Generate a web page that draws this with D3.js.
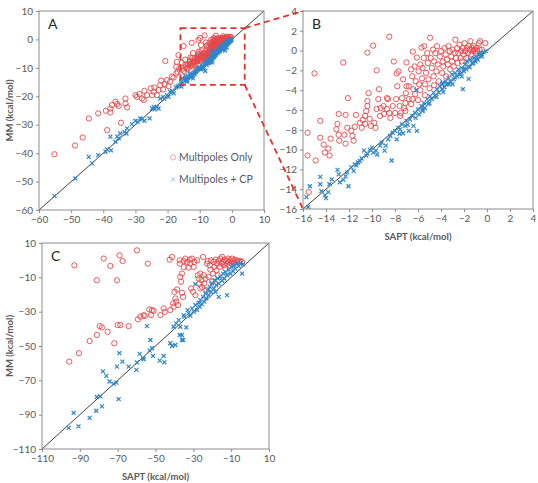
<!DOCTYPE html>
<html>
<head>
<meta charset="utf-8">
<script src="https://cdn.jsdelivr.net/npm/d3@7"></script>
<style>
  body { margin: 0; background: #fff; }
  text { font-family: Lato, sans-serif; }
</style>
</head>
<body>
<div id="chart"></div>
<script>
// SAPT vs MM interaction energies, kcal/mol  [sapt, mm]
// set 1 (panels A and B, B is the zoom of A)
const multipolesOnly1 = [
  [-55.2,-40.4],[-48.8,-37.3],[-46.4,-34.5],[-44.5,-27.8],[-41.6,-26.0],[-38.8,-31.9],[-39.2,-25.1],
  [-37.8,-25.7],[-37.8,-24.3],[-37.3,-23.1],[-36.2,-21.9],[-35.7,-22.7],[-35.2,-23.4],[-34.5,-29.3],
  [-33.1,-20.8],[-33.1,-22.5],[-32.6,-23.9],[-30.0,-19.6],[-29.5,-20.2],[-28.7,-19.2],[-28.0,-20.8],
  [-27.4,-21.3],[-27.2,-18.1],[-26.4,-19.6],[-25.2,-17.2],[-24.8,-19.6],[-24.3,-18.4],[-24.1,-16.9],
  [-23.3,-19.6],[-22.8,-17.8],[-22.3,-16.1],[-22.0,-14.5],[-21.4,-17.6],[-20.9,-15.7],[-20.7,-7.6],
  [-20.2,-14.3],[-19.7,-16.4],[-19.2,-14.9],[-18.6,-13.1],[-18.1,-13.4],[-17.3,-12.0],[-17.1,-7.9],
  [-17.3,-9.6],[-16.9,-11.4],[-16.6,-5.5],[-16.4,-10.2],
  [-15.6,-8.3],[-15.6,-10.6],[-15.5,-14.3],[-15.0,-2.3],[-14.9,-11.1],[-14.5,-7.1],[-14.5,-8.8],
  [-14.2,-9.5],[-14.1,-10.3],[-13.8,-9.9],[-13.7,-10.6],[-13.6,-8.9],[-12.9,-6.4],[-13.0,-7.4],
  [-13.1,-7.95],[-12.9,-8.5],[-12.85,-9.1],[-12.5,-1.2],[-12.3,-6.5],[-12.1,-4.8],[-12.15,-7.8],
  [-12.4,-8.5],[-12.3,-9.4],[-11.8,-8.1],[-11.7,-8.6],[-11.6,-9.1],[-11.4,-6.5],[-11.5,-7.7],
  [-11.05,-7.3],[-10.9,-7.8],[-10.8,-7.0],[-10.6,-6.6],[-10.6,-7.4],[-10.5,-6.1],[-10.4,-5.6],
  [-10.3,-4.3],[-10.4,-0.2],[-10.4,-5.1],[-10.2,-6.9],[-10.1,-7.6],[-9.9,0.5],[-9.8,-7.3],
  [-9.7,-7.8],[-9.6,-2.0],[-9.6,-5.9],[-9.45,-4.9],[-9.4,-3.9],[-9.3,-6.6],[-9.25,-5.8],[-9.0,-5.6],
  [-8.95,-6.4],[-8.7,-4.8],[-8.7,-5.9],[-8.6,-4.9],[-8.5,1.4],[-8.5,-6.3],[-8.4,-6.8],[-8.2,-5.6],
  [-8.1,-1.1],[-8.0,-6.3],[-7.9,-4.9],[-7.85,-2.3],[-7.8,-3.6],[-7.7,-2.1],[-7.6,-5.6],[-7.55,-6.6],
  [-7.5,-6.3],[-7.4,-4.8],[-7.3,-2.9],[-7.2,-5.8],[-7.1,-5.3],[-7.1,-6.1],[-7.05,-4.3],[-7.0,-1.2],
  [-7.0,-3.6],[-6.8,-4.9],[-6.8,-3.6],[-6.6,-1.9],[-6.5,-2.6],[-6.5,-4.9],[-6.45,-0.1],[-6.4,-3.9],
  [-6.3,-1.6],[-6.25,-4.4],[-6.2,-3.1],[-6.1,-0.7],[-5.95,-2.1],[-5.9,-3.4],[-5.8,-1.4],[-5.7,0.3],
  [-5.65,-2.8],[-5.6,-1.75],[-5.5,-0.75],[-5.45,0.45],[-5.4,-3.4],[-5.3,-2.25],[-5.2,-0.25],
  [-5.15,-1.25],[-5.1,-2.9],[-4.95,1.3],[-4.9,-0.75],[-4.8,-1.75],[-4.7,0.1],[-4.65,-2.6],[-4.6,-1.1],
  [-4.5,-0.25],[-4.4,-2.1],[-4.35,0.45],[-4.3,-1.4],[-4.2,-3.1],[-4.1,-0.6],[-4.0,-0.05],[-3.9,-2.25],
  [-3.85,-1.1],[-3.8,-1.6],[-3.7,0.25],[-3.6,-0.4],[-3.55,-2.6],[-3.5,-0.9],[-3.4,-1.4],[-3.35,0.45],
  [-3.25,-0.05],[-3.2,-1.9],[-3.1,-0.6],[-3.05,-1.1],[-3.0,0.1],[-2.9,-1.6],[-2.8,-0.25],[-2.75,1.1],
  [-2.7,-0.75],[-2.6,0.25],[-2.55,-1.25],[-2.5,-0.25],[-2.4,0.6],[-2.3,-0.75],[-2.25,-0.05],
  [-2.2,-1.1],[-2.1,0.25],[-2.0,-0.4],[-1.95,0.75],[-1.9,-0.05],[-1.8,-0.75],[-1.75,0.25],
  [-1.65,-0.25],[-1.6,0.45],[-1.5,0.1],[-1.45,0.95],[-1.35,-0.4],[-1.3,0.25],[-1.2,-0.05],
  [-1.15,0.45],[-1.1,0.1],[-1.0,-0.25],[-0.95,0.25],[-0.85,-0.05],[-0.7,0.75],[-0.65,0.1],
  [-0.6,0.95],[-0.45,0.1],[-0.15,0.75],
  [-5.8,-4.0],[-5.4,-4.5],[-5.0,-3.8],[-4.6,-3.5],[-6.0,-5.0],[-6.6,-5.4]
];
const multipolesCP1 = [
  [-55.2,-55.1],[-48.7,-48.9],[-44.5,-41.3],[-43.5,-43.6],[-41.6,-40.7],[-39.3,-39.5],[-38.8,-38.7],
  [-37.8,-34.2],[-37.6,-39.0],[-36.2,-36.0],[-35.7,-34.2],[-35.2,-34.8],[-34.7,-33.1],[-33.4,-32.5],
  [-32.8,-33.1],[-32.6,-31.3],[-31.1,-29.8],[-30.0,-28.6],[-29.3,-29.0],[-28.5,-27.8],[-27.95,-28.0],
  [-27.2,-28.6],[-25.6,-27.8],[-24.8,-24.3],[-24.3,-23.7],[-24.0,-24.6],[-23.3,-23.7],[-22.8,-24.3],
  [-22.3,-20.8],[-21.4,-20.2],[-21.0,-20.9],[-20.2,-19.6],[-19.7,-20.2],[-19.2,-18.4],[-18.6,-18.1],
  [-18.1,-19.0],[-17.4,-16.9],[-16.9,-16.4],[-16.3,-16.1],[-15.7,-16.6],
  [-15.7,-14.8],[-15.55,-15.8],[-15.4,-13.7],[-14.5,-12.75],[-14.5,-13.5],[-14.4,-14.2],[-14.1,-14.6],
  [-14.0,-14.9],[-13.8,-14.3],[-13.5,-13.0],[-13.7,-13.5],[-13.0,-12.05],[-12.9,-12.5],[-12.8,-13.3],
  [-12.5,-13.05],[-12.3,-12.7],[-12.05,-13.7],[-12.15,-12.3],[-11.8,-11.8],[-11.6,-12.15],
  [-11.5,-11.5],[-11.35,-11.6],[-11.2,-11.3],[-11.05,-11.15],[-10.9,-10.9],[-10.7,-10.1],
  [-10.5,-10.6],[-10.4,-10.4],[-10.2,-10.0],[-10.0,-9.8],[-9.9,-10.3],[-9.65,-10.1],[-9.55,-10.5],
  [-9.3,-9.6],[-9.15,-9.3],[-8.9,-10.1],[-8.8,-9.6],[-8.6,-8.96],[-8.4,-8.6],[-8.3,-11.1],
  [-8.2,-8.3],[-8.0,-8.1],[-7.85,-8.96],[-7.7,-7.8],[-7.55,-7.95],[-7.4,-7.45],[-7.3,-8.35],
  [-7.1,-7.6],[-7.0,-7.1],[-6.8,-8.1],[-6.7,-6.95],[-6.5,-6.6],[-6.4,-7.6],[-6.25,-6.3],[-6.1,-8.1],
  [-6.0,-5.95],[-5.9,-6.45],[-5.7,-5.6],[-5.6,-5.95],[-5.5,-5.3],[-5.4,-5.8],[-5.2,-4.9],[-5.1,-5.4],
  [-4.95,-4.6],[-4.8,-4.9],[-4.65,-4.25],[-4.5,-4.6],[-4.35,-3.9],[-4.2,-4.25],[-4.1,-3.6],
  [-3.9,-3.9],[-3.85,-3.25],[-3.7,-3.7],[-3.6,-3.1],[-3.5,-3.4],[-3.35,-2.75],[-3.2,-3.1],
  [-3.05,-2.4],[-2.9,-2.9],[-2.75,-2.25],[-2.6,-2.6],[-2.5,-1.9],[-2.3,-2.4],[-2.2,-1.75],
  [-2.1,-3.9],[-2.0,-2.1],[-1.9,-1.4],[-1.8,-1.9],[-1.75,-1.1],[-1.6,-2.85],[-1.6,-1.6],[-1.45,-0.9],
  [-1.3,-1.25],[-1.15,-0.75],[-1.0,-1.1],[-0.85,-0.6],[-0.7,-0.4],[-0.6,-0.25],[-0.45,-0.6],
  [-0.3,-0.15],[-0.1,-0.05],
  [-3.3,-3.4],[-2.8,-2.7],[-2.4,-2.2],[-2.0,-1.8],[-1.2,-1.3],[-0.8,-0.9],[-0.5,-0.4],[-3.8,-4.2],
  [-4.4,-4.7],[-5.0,-5.3],[-5.6,-6.1],[-6.2,-6.8],[-6.9,-7.5],[-7.6,-8.4],[-2.2,-2.6],[-1.5,-1.7],
  [-3.0,-3.4],[-3.9,-3.4],[-6.15,-4.0]
];

// set 2 (panel C)
const multipolesOnly2 = [
  [-95.6,-59.1],[-92.9,-3.0],[-90.5,-54.2],[-84.8,-47.1],[-81.0,-43.6],[-81.0,-11.7],[-79.5,-38.4],
  [-78.3,-39.2],[-77.4,0.9],[-75.3,-41.7],[-73.9,-3.4],[-71.8,-48.4],[-70.4,-11.7],[-70.0,-37.8],
  [-69.0,2.8],[-68.6,-37.8],[-67.4,-0.5],[-64.2,-38.4],[-59.8,5.7],[-59.3,-34.5],[-58.0,-32.9],
  [-56.3,-32.0],[-55.7,-32.5],[-54.1,-2.0],[-53.3,-28.7],[-52.4,-32.0],[-51.9,-29.1],[-51.0,-29.5],
  [-47.4,-32.0],[-45.7,-28.1],[-45.1,-30.1],[-42.5,0.3],[-42.2,-29.1],[-41.3,1.9],[-40.7,-25.2],
  [-40.4,-27.1],[-40.0,-18.4],[-39.5,-22.3],[-39.0,-24.2],[-38.6,-17.1],[-38.1,-26.1],[-37.2,-0.1],
  [-37.2,-2.0],[-36.9,-9.7],[-36.5,-12.6],[-36.0,-7.8],[-36.0,-19.0],[-35.4,-21.4],[-35.1,-4.0],
  [-35.1,-0.5],[-34.2,0.9],[-33.3,-1.0],[-32.5,-4.3],[-31.9,0.3],[-31.6,-2.0],[-31.2,-16.5],
  [-30.7,0.9],[-30.2,-18.4],[-29.8,-3.9],[-29.5,-1.0],[-28.9,-20.4],[-28.0,-0.1],[-27.7,-8.8],
  [-27.2,-10.7],[-26.8,-13.6],[-26.3,-7.8],[-26.3,-16.5],[-25.7,-11.7],[-25.4,-15.6],[-24.9,1.9],
  [-24.5,-8.8],[-24.2,-13.6],[-23.6,-10.7],[-23.1,-17.5],[-22.8,-2.0],[-22.4,-0.5],[-21.9,-9.7],
  [-21.3,-3.0],[-21.0,-5.5],[-20.6,-0.1],[-20.1,-12.6],[-19.6,-7.8],[-19.2,-1.0],[-18.9,-3.9],
  [-18.3,0.3],[-17.8,-5.9],[-17.5,-2.0],[-17.1,-8.8],[-16.6,-0.5],[-16.0,-3.9],[-15.7,0.9],
  [-15.2,-2.0],[-14.8,1.9],[-14.3,-1.0],[-13.9,-3.0],[-13.4,0.3],[-13.1,-4.9],[-12.5,-0.5],
  [-12.2,-2.0],[-11.6,0.9],[-11.3,-1.0],[-10.8,-3.0],[-10.4,-0.1],[-9.9,-1.6],[-9.5,0.9],
  [-9.0,-0.5],[-8.6,-2.0],[-8.1,0.3],[-7.6,-1.0],[-6.9,-0.1],[-6.0,-0.6],[-5.1,-0.5],[-4.2,-1.0]
];
const multipolesCP2 = [
  [-95.9,-97.7],[-93.3,-89.0],[-90.7,-96.8],[-84.8,-91.9],[-81.3,-87.7],[-81.0,-79.7],[-79.2,-79.3],
  [-78.3,-85.2],[-77.8,-64.8],[-76.0,-67.4],[-74.3,-70.7],[-72.1,-72.1],[-70.7,-71.3],[-70.4,-62.0],
  [-69.5,-80.9],[-69.1,-54.2],[-67.5,-59.1],[-64.2,-62.0],[-60.1,-63.9],[-59.8,-59.6],[-58.4,-54.6],
  [-56.6,-57.1],[-56.3,-57.7],[-54.5,-38.4],[-53.1,-52.7],[-52.7,-46.5],[-51.9,-51.3],[-51.3,-55.8],
  [-47.8,-58.5],[-45.7,-55.8],[-45.3,-59.5],[-42.2,-48.4],[-41.3,-50.0],[-40.4,-38.8],[-39.5,-49.4],
  [-39.0,-36.8],[-37.7,-34.9],[-37.2,-43.6],[-36.9,-38.8],[-36.0,-46.5],[-36.0,-43.6],[-35.4,-46.5],
  [-35.1,-32.0],[-34.7,-33.0],[-33.7,-39.2],[-33.0,-29.1],[-32.5,-31.0],[-31.6,-32.5],[-30.7,-28.1],
  [-29.8,-30.1],[-28.9,-26.1],[-28.0,-29.1],[-27.2,-24.8],[-26.6,-27.1],[-26.3,-23.3],[-25.4,-25.6],
  [-24.9,-21.4],[-24.2,-24.2],[-23.6,-19.4],[-23.1,-22.3],[-22.4,-17.5],[-21.9,-20.4],[-21.3,-15.6],
  [-20.6,-18.4],[-20.1,-13.6],[-19.2,-16.5],[-18.7,-11.7],[-18.3,-18.4],[-17.8,-14.6],[-17.1,-10.7],
  [-16.6,-21.4],[-16.6,-13.6],[-15.7,-9.7],[-14.8,-12.0],[-14.3,-7.8],[-13.6,-10.7],[-13.1,-6.8],
  [-12.2,-20.4],[-12.2,-8.8],[-11.3,-5.5],[-10.4,-7.8],[-9.9,-3.9],[-9.0,-6.3],[-8.6,-3.0],
  [-7.8,-4.9],[-6.9,-2.0],[-6.0,-3.5],[-5.1,-1.6],[-4.2,-7.8],[-3.7,-2.4],[-29.0,-14.0]
];

const ticksA = [-60, -50, -40, -30, -20, -10, 0, 10];
const ticksB = [-16, -14, -12, -10, -8, -6, -4, -2, 0, 2, 4];
const ticksC = [-110, -90, -70, -50, -30, -10, 10];
const zoomRange = [-16, 4];
const legendLabels = ['Multipoles Only', 'Multipoles + CP'];

const red = '#e4484c', blue = '#2f86c9', grey = '#595959';
const width = 538, height = 483;

const svg = d3.select('#chart').append('svg')
  .attr('width', width).attr('height', height);

const circle = d3.symbol().type(d3.symbolCircle).size(22);
const cross = d3.symbol().type(d3.symbolTimes).size(12);

function drawPanel(p) {
  const x = d3.scaleLinear().domain(p.domain).range([p.left, p.right]);
  const y = d3.scaleLinear().domain(p.domain).range([p.bottom, p.top]);
  const g = svg.append('g');

  g.append('clipPath').attr('id', 'clip' + p.name)
    .append('rect')
    .attr('x', p.left).attr('y', p.top)
    .attr('width', p.right - p.left).attr('height', p.bottom - p.top);

  // x axis
  const ax = g.append('g').attr('transform', `translate(0,${p.bottom})`)
    .call(d3.axisBottom(x).tickValues(p.ticks).tickSize(3).tickPadding(3));
  // y axis
  const ay = g.append('g').attr('transform', `translate(${p.left},0)`)
    .call(d3.axisLeft(y).tickValues(p.ticks).tickSize(3).tickPadding(3));
  [ax, ay].forEach(a => {
    a.select('.domain').remove();
    a.selectAll('line').attr('stroke', '#8c8c8c');
    a.selectAll('text').attr('fill', grey).attr('font-size', 10).attr('font-family', 'Lato, sans-serif');
  });

  const plot = g.append('g').attr('clip-path', `url(#clip${p.name})`);

  // y = x line
  plot.append('line')
    .attr('x1', x(p.domain[0])).attr('y1', y(p.domain[0]))
    .attr('x2', x(p.domain[1])).attr('y2', y(p.domain[1]))
    .attr('stroke', '#404040').attr('stroke-width', 1);

  plot.selectAll('.mp').data(p.red).enter().append('path')
    .attr('d', circle)
    .attr('transform', d => `translate(${x(d[0])},${y(d[1])})`)
    .attr('fill', 'none').attr('stroke', red).attr('stroke-width', 0.9);

  plot.selectAll('.cp').data(p.blue).enter().append('path')
    .attr('d', cross)
    .attr('transform', d => `translate(${x(d[0])},${y(d[1])})`)
    .attr('fill', 'none').attr('stroke', blue).attr('stroke-width', 1.2);

  g.append('rect')
    .attr('x', p.left).attr('y', p.top)
    .attr('width', p.right - p.left).attr('height', p.bottom - p.top)
    .attr('fill', 'none').attr('stroke', '#8c8c8c').attr('stroke-width', 1);

  g.append('text').attr('x', p.left + 9).attr('y', p.top + 18)
    .attr('font-size', 14).attr('fill', '#262626').text(p.name);

  if (p.yTitle) {
    g.append('text')
      .attr('transform', `translate(13,${(p.top + p.bottom) / 2}) rotate(-90)`)
      .attr('text-anchor', 'middle').attr('font-size', 9.5).attr('font-weight', 'bold')
      .attr('fill', grey).text('MM (kcal/mol)');
  }
  if (p.xTitle) {
    g.append('text')
      .attr('x', (p.left + p.right) / 2).attr('y', p.bottom + 31)
      .attr('text-anchor', 'middle').attr('font-size', 9.5).attr('font-weight', 'bold')
      .attr('fill', grey).text('SAPT (kcal/mol)');
  }
  return {x, y};
}

const A = drawPanel({name: 'A', left: 39, right: 264, top: 11, bottom: 210,
  domain: [-60, 10], ticks: ticksA, red: multipolesOnly1, blue: multipolesCP1, yTitle: true});
const B = drawPanel({name: 'B', left: 303, right: 533, top: 11, bottom: 209,
  domain: [-16, 4], ticks: ticksB, red: multipolesOnly1, blue: multipolesCP1, xTitle: true});
drawPanel({name: 'C', left: 42, right: 269, top: 243, bottom: 449,
  domain: [-110, 10], ticks: ticksC, red: multipolesOnly2, blue: multipolesCP2, xTitle: true, yTitle: true});

// zoom box in A and lines to B
const dash = {stroke: '#e8302c', 'stroke-width': 1.8, 'stroke-dasharray': '6,4', fill: 'none'};
const zr = svg.append('rect')
  .attr('x', A.x(zoomRange[0])).attr('y', A.y(zoomRange[1]))
  .attr('width', A.x(zoomRange[1]) - A.x(zoomRange[0]))
  .attr('height', A.y(zoomRange[0]) - A.y(zoomRange[1]));
Object.entries(dash).forEach(([k, v]) => zr.attr(k, v));

[[zoomRange[1], zoomRange[1]], [zoomRange[1], zoomRange[0]]].forEach(([ax, ay]) => {
  const l = svg.append('line')
    .attr('x1', A.x(ax)).attr('y1', A.y(ay))
    .attr('x2', B.x(zoomRange[0])).attr('y2', B.y(ay));
  Object.entries(dash).forEach(([k, v]) => l.attr(k, v));
});

// legend
const legend = svg.append('g').attr('transform', `translate(${A.x(-18.3)},${A.y(-41.5)})`);
legendLabels.forEach((label, i) => {
  const row = legend.append('g').attr('transform', `translate(0,${i * 22})`);
  row.append('path').attr('d', i === 0 ? circle : cross)
    .attr('fill', 'none').attr('stroke', i === 0 ? red : blue)
    .attr('stroke-width', 0.8).attr('opacity', 0.6);
  row.append('text').attr('x', 6).attr('dy', '0.35em')
    .attr('font-size', 10.5).attr('fill', grey).text(label);
});
</script>
</body>
</html>
